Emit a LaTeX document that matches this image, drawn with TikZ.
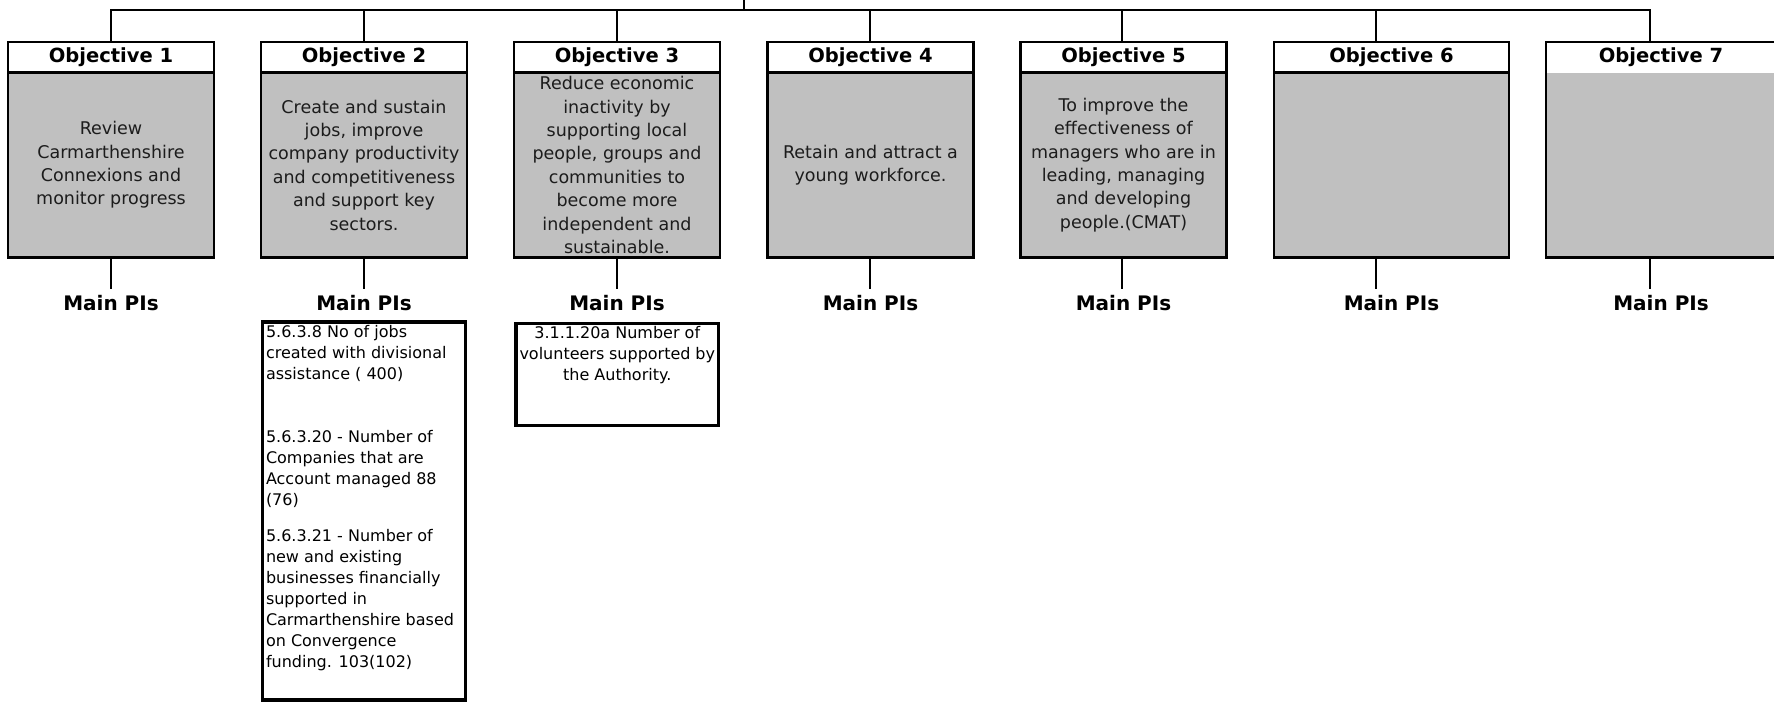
\documentclass[tikz,border=0pt]{standalone}
\usepackage{fontspec}
\setmainfont{DejaVu Sans}
\usetikzlibrary{positioning}
\definecolor{boxgray}{RGB}{192,192,192}
\definecolor{inkgray}{RGB}{28,28,28}

\begin{document}
\begin{tikzpicture}[x=1pt, y=-1pt,
  objhead/.style={draw, line width=2.2pt, fill=white, minimum height=30.5pt, inner sep=0pt, outer sep=0pt, anchor=north, font=\fontsize{19.5}{23}\selectfont\bfseries},
  objbody/.style={draw, line width=2.2pt, fill=boxgray, minimum height=185pt, inner sep=0pt, outer sep=0pt, align=center, text=inkgray, font=\fontsize{17.5}{23.4}\selectfont},
  pilabel/.style={inner xsep=0pt, inner ysep=6.5pt, font=\fontsize{20}{24}\selectfont\bfseries},
  pibox/.style={draw, line width=3.3pt, inner xsep=3.5pt, inner ysep=3pt, outer sep=0pt, anchor=north west, font=\fontsize{16}{21}\selectfont},
  link/.style={line width=2pt}]

\useasboundingbox (0,0) rectangle (1774,704);

% Objective headers
\foreach \i/\cx/\w in {1/111/206, 2/364/206, 3/617/206, 4/870.5/206, 5/1123.5/206, 6/1391.5/235} {
    \node[objhead, minimum width=\w pt] (h\i) at (\cx,42) {Objective \i};
}
\node[objhead, draw=none, minimum width=230pt] (h7) at (1661,42) {Objective 7};

% Objective texts
\node[objbody, minimum width=206pt, below=0pt of h1] (b1) {Review\\Carmarthenshire\\Connexions and\\monitor progress};
\node[objbody, minimum width=206pt, below=0pt of h2] (b2) {Create and sustain\\jobs, improve\\company productivity\\and competitiveness\\and support key\\sectors.};
\node[objbody, minimum width=206pt, below=0pt of h3] (b3) {Reduce economic\\inactivity by\\supporting local\\people, groups and\\communities to\\become more\\independent and\\sustainable.};
\node[objbody, minimum width=206pt, below=0pt of h4] (b4) {Retain and attract a\\young workforce.};
\node[objbody, minimum width=206pt, below=0pt of h5] (b5) {To improve the\\effectiveness of\\managers who are in\\leading, managing\\and developing\\people.(CMAT)};
\node[objbody, minimum width=235pt, below=0pt of h6] (b6) {};
\node[objbody, draw=none, minimum width=230pt, below=0pt of h7] (b7) {};
\draw[line width=2.2pt] (h7.north west) rectangle (b7.south east); % no divider here

% Top bus
\foreach \i/\sx in {1/111, 2/364, 3/617, 4/870, 5/1122, 6/1376, 7/1650} {
    \coordinate (t\i) at (\sx,10);
}
\coordinate (root) at (744,0);
\draw[link] (t1 |- h1.north) -- (t1) -- (t7) -- (t7 |- h7.north);
\draw[link] (root) -- (root |- t1);
\foreach \i in {2,...,6} {
    \draw[link] (t\i) -- (t\i |- h\i.north);
}

% Main PIs labels
\foreach \i/\cx in {1/111, 2/364, 3/617, 4/870.5, 5/1123.5, 6/1391.5, 7/1661} {
    \node[pilabel] (m\i) at (\cx,303) {Main PIs};
    \draw[link] (t\i |- b\i.south) -- (t\i |- m\i.north);
}

% PI lists
\node[pibox] (p2) at (262.5,322) {\parbox[t][372pt][t]{196pt}{\raggedright
5.6.3.8 No of jobs\\created with divisional\\assistance ( 400)\\[42pt]
5.6.3.20 - Number of\\Companies that are\\Account managed 88\\(76)\\[15pt]
5.6.3.21 - Number of\\new and existing\\businesses financially\\supported in\\Carmarthenshire based\\on Convergence\\funding. 103(102)}};
\node[pibox] (p3) at (516,323.3) {\parbox[t][96.5pt][t]{195.5pt}{\centering
3.1.1.20a Number of\\volunteers supported by\\the Authority.}};

\end{tikzpicture}
\end{document}
